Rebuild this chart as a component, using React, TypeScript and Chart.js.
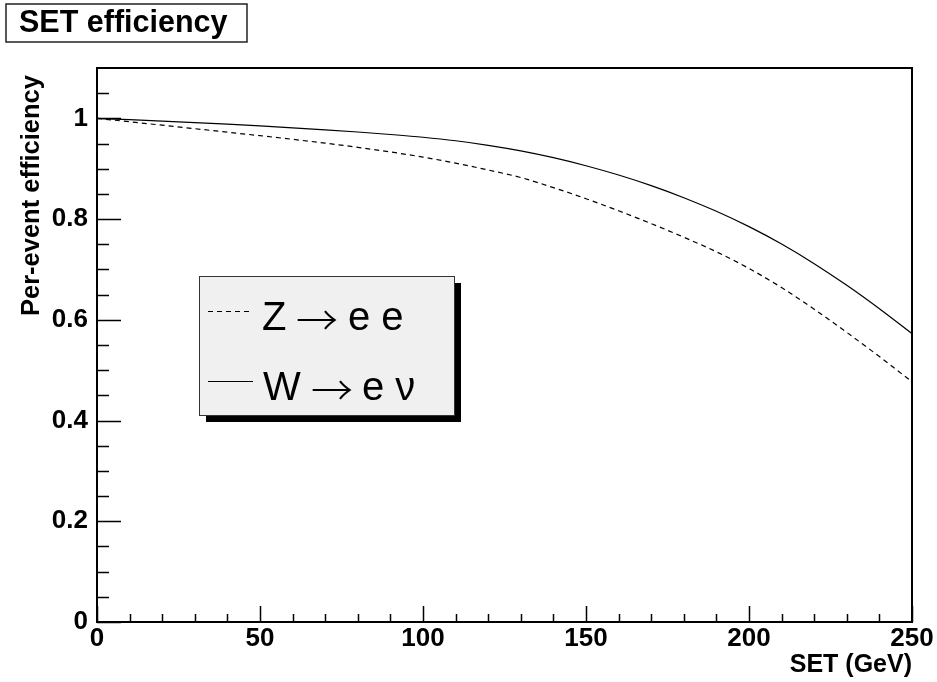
import React, { useEffect, useRef } from "react";
import { Chart, registerables } from "chart.js";

Chart.register(...registerables);

const SET_GEV = [0, 10, 20, 30, 40, 50, 60, 70, 80, 90, 100, 110, 120, 130, 140, 150, 160, 170, 180, 190, 200, 210, 220, 230, 240, 250];
const W_EFF = [1.0, 0.9974, 0.9946, 0.9916, 0.9884, 0.985, 0.9813, 0.9773, 0.9729, 0.968, 0.9625, 0.9555, 0.9465, 0.9355, 0.922, 0.906, 0.8875, 0.8665, 0.8425, 0.8155, 0.785, 0.7505, 0.7115, 0.6685, 0.622, 0.5725];
const Z_EFF = [1.0, 0.9932, 0.9864, 0.9795, 0.9726, 0.9656, 0.9584, 0.9508, 0.9425, 0.9333, 0.923, 0.911, 0.8975, 0.8825, 0.8625, 0.8405, 0.8165, 0.791, 0.764, 0.735, 0.702, 0.664, 0.621, 0.575, 0.527, 0.477];
const Y_TICKS = [0, 0.2, 0.4, 0.6, 0.8, 1.0];
const X_TICKS = [0, 50, 100, 150, 200, 250];
const TITLE = "SET efficiency";
const X_TITLE = "SET (GeV)";
const Y_TITLE = "Per-event efficiency ";
const LABEL_Z = ["Z", "\u2192", "e e"];
const LABEL_W = ["W", "\u2192", "e \u03bd"];

const FONT = "'Liberation Sans', Arial, Helvetica, sans-serif";

const rootPlugin = {
  id: "rootDecor",
  afterDraw(chart: any) {
    const ctx = chart.ctx;
    const ca = chart.chartArea;
    const xs = chart.scales.x;
    const ys = chart.scales.y;
    ctx.save();
    // frame
    ctx.strokeStyle = "#000";
    ctx.lineWidth = 2;
    ctx.strokeRect(ca.left, ca.top, ca.right - ca.left, ca.bottom - ca.top);
    // x ticks (inside)
    ctx.lineWidth = 1.5;
    ctx.beginPath();
    for (let v = 0; v <= 250 + 1e-9; v += 10) {
      const px = Math.round(xs.getPixelForValue(v)) + 0.5;
      const len = v % 50 === 0 ? 16 : 8;
      ctx.moveTo(px, ca.bottom);
      ctx.lineTo(px, ca.bottom - len);
    }
    // y ticks (inside)
    for (let i = 0; i <= 21; i++) {
      const v = i * 0.05;
      const py = Math.round(ys.getPixelForValue(v)) + 0.5;
      const len = i % 4 === 0 ? 24 : 12;
      ctx.moveTo(ca.left, py);
      ctx.lineTo(ca.left + len, py);
    }
    ctx.stroke();

    // title box
    ctx.fillStyle = "#fff";
    ctx.fillRect(6, 4, 241, 38);
    ctx.lineWidth = 1.5;
    ctx.strokeStyle = "#222";
    ctx.strokeRect(6, 4, 241, 38);
    ctx.fillStyle = "#000";
    ctx.font = `bold 30.5px ${FONT}`;
    ctx.textBaseline = "alphabetic";
    ctx.textAlign = "left";
    ctx.fillText(TITLE, 19, 32);

    // legend
    const lx = 199, ly = 276, lw = 255, lh = 139;
    ctx.fillStyle = "#000";
    ctx.fillRect(lx + 7, ly + 7, lw, lh);
    ctx.fillStyle = "#f0f0f0";
    ctx.fillRect(lx, ly, lw, lh);
    ctx.strokeStyle = "#333";
    ctx.lineWidth = 1;
    ctx.strokeRect(lx + 0.5, ly + 0.5, lw, lh);
    const ds = chart.data.datasets;
    const rows = [
      { d: ds[0], parts: LABEL_Z, y: 311, base: 330, xs: [262, 298, 348] },
      { d: ds[1], parts: LABEL_W, y: 381, base: 400, xs: [263, 313, 362] },
    ];
    for (const r of rows) {
      ctx.beginPath();
      ctx.strokeStyle = "#000";
      ctx.lineWidth = r.d.borderWidth;
      ctx.setLineDash(r.d.borderDash || []);
      ctx.moveTo(208, r.y + 0.5);
      ctx.lineTo(253, r.y + 0.5);
      ctx.stroke();
      ctx.setLineDash([]);
      ctx.fillStyle = "#000";
      ctx.font = `40px ${FONT}`;
      ctx.textBaseline = "alphabetic";
      ctx.fillText(r.parts[0], r.xs[0], r.base);
      // arrow glyph, stretched to span ~38px, centred ~10px above baseline
      ctx.font = `300 40px 'Noto Sans CJK SC', 'DejaVu Sans', sans-serif`;
      ctx.textBaseline = "middle";
      const w = ctx.measureText(r.parts[1]).width;
      ctx.save();
      ctx.translate(r.xs[1] - 2, r.base - 10);
      ctx.scale(42 / w, 1);
      ctx.fillText(r.parts[1], 0, 0);
      ctx.restore();
      ctx.textBaseline = "alphabetic";
      ctx.font = `40px ${FONT}`;
      ctx.fillText(r.parts[2], r.xs[2], r.base);
    }
    ctx.restore();
  },
};

export default function App() {
  const ref = useRef<HTMLCanvasElement | null>(null);
  useEffect(() => {
    if (!ref.current) return;
    const tickFont = { family: FONT, size: 26, weight: "bold" as const };
    const chart = new Chart(ref.current, {
      type: "line",
      data: {
        datasets: [
          {
            label: "Z \u2192 e e",
            data: SET_GEV.map((x, i) => ({ x, y: Z_EFF[i] })),
            borderColor: "#000",
            borderWidth: 1.2,
            borderDash: [5, 4],
            pointRadius: 0,
            cubicInterpolationMode: "monotone",
            fill: false,
          },
          {
            label: "W \u2192 e \u03bd",
            data: SET_GEV.map((x, i) => ({ x, y: W_EFF[i] })),
            borderColor: "#000",
            borderWidth: 1.2,
            pointRadius: 0,
            cubicInterpolationMode: "monotone",
            fill: false,
          },
        ],
      },
      options: {
        responsive: false,
        animation: false,
        layout: { padding: { top: 68, right: 25, left: 0, bottom: 0 } },
        plugins: {
          legend: { display: false },
          title: { display: false },
          tooltip: { enabled: false },
        },
        scales: {
          x: {
            type: "linear",
            min: 0,
            max: 250,
            afterBuildTicks: (s: any) => {
              s.ticks = X_TICKS.map((v) => ({ value: v }));
            },
            ticks: {
              font: tickFont,
              color: "#000",
              padding: 1,
              maxRotation: 0,
              autoSkip: false,
              callback: (v: any) => String(v),
            },
            grid: { display: false, drawTicks: false },
            border: { display: false },
            title: {
              display: true,
              text: X_TITLE,
              align: "end",
              color: "#000",
              font: { family: FONT, size: 25, weight: "bold" },
              padding: { top: 0, bottom: 2 },
            },
            afterFit: (s: any) => {
              s.height = 60;
            },
          },
          y: {
            type: "linear",
            min: 0,
            max: 1.1,
            afterBuildTicks: (s: any) => {
              s.ticks = Y_TICKS.map((v) => ({ value: v }));
            },
            ticks: {
              font: tickFont,
              color: "#000",
              padding: 9,
              autoSkip: false,
              callback: (v: any) => String(Math.round(Number(v) * 10) / 10),
            },
            grid: { display: false, drawTicks: false },
            border: { display: false },
            title: {
              display: true,
              text: Y_TITLE,
              align: "end",
              color: "#000",
              font: { family: FONT, size: 25.5, weight: "bold" },
              padding: { top: 17, bottom: 0 },
            },
            afterFit: (s: any) => {
              s.width = 97;
            },
          },
        },
      },
      plugins: [rootPlugin],
    } as any);
    return () => chart.destroy();
  }, []);
  return (
    <div style={{ position: "fixed", left: 0, top: 0, width: 937, height: 682, background: "#fff" }}>
      <canvas ref={ref} width={937} height={682} style={{ width: 937, height: 682, display: "block" }} />
    </div>
  );
}
